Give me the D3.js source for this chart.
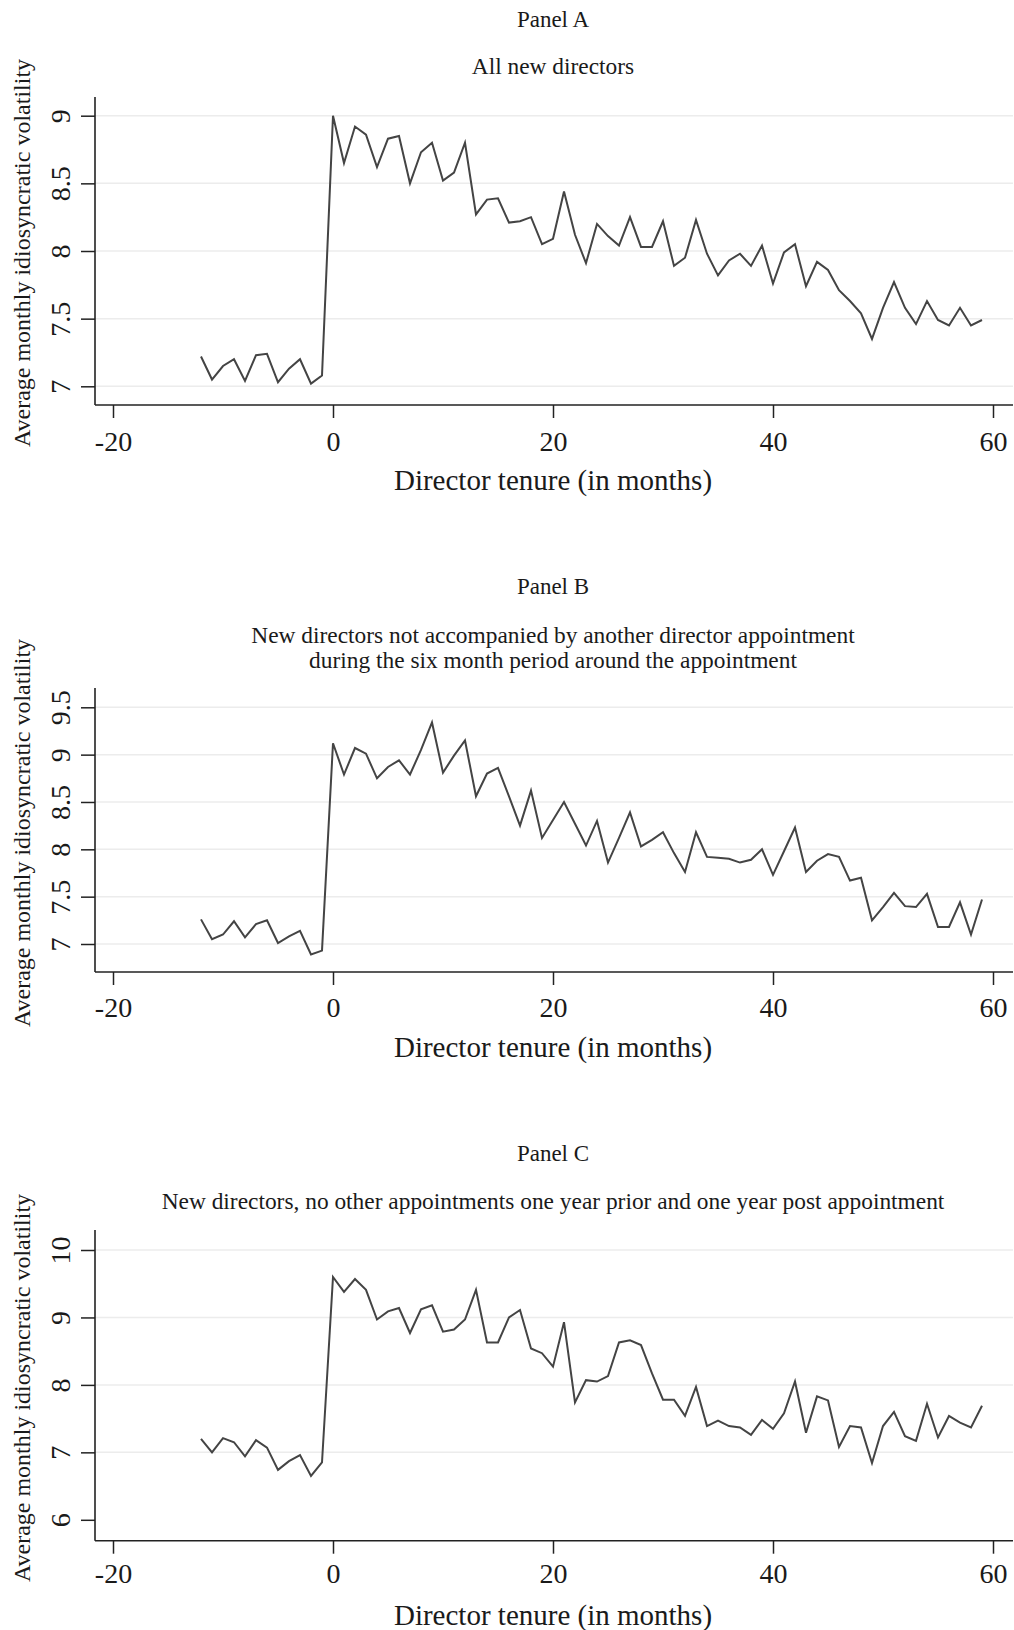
<!DOCTYPE html>
<html lang="en">
<head>
<meta charset="UTF-8">
<title>Idiosyncratic volatility around director appointments</title>
<script src="https://cdn.jsdelivr.net/npm/d3@7"></script>
<style>
  body { margin: 0; background: #fff; }
  text { font-family: "Liberation Serif", "Times New Roman", serif; fill: #1a1a1a; }
</style>
</head>
<body>
<svg width="1014" height="1630"></svg>
<script>
// months relative to appointment
var months = d3.range(-12, 60);

var xTicks = [-20, 0, 20, 40, 60];

// Panel A: all new directors
var valuesA = [7.22, 7.05, 7.15, 7.20, 7.04, 7.23, 7.24, 7.03, 7.13, 7.20, 7.02, 7.08,
  9.00, 8.65, 8.92, 8.86, 8.62, 8.83, 8.85, 8.50, 8.73, 8.80, 8.52, 8.58,
  8.80, 8.27, 8.38, 8.39, 8.21, 8.22, 8.25, 8.05, 8.09, 8.44, 8.12, 7.91,
  8.20, 8.11, 8.04, 8.25, 8.03, 8.03, 8.22, 7.89, 7.95, 8.23, 7.98, 7.82,
  7.93, 7.98, 7.89, 8.04, 7.76, 7.99, 8.05, 7.74, 7.92, 7.86, 7.71, 7.63,
  7.54, 7.35, 7.58, 7.77, 7.58, 7.46, 7.63, 7.49, 7.45, 7.58, 7.45, 7.49];
var yTicksA = [7, 7.5, 8, 8.5, 9];
var gridA = [7, 7.5, 8, 8.5, 9];

// Panel B: no other appointment within six months
var valuesB = [7.26, 7.05, 7.10, 7.24, 7.07, 7.21, 7.25, 7.01, 7.08, 7.14, 6.89, 6.93,
  9.12, 8.79, 9.07, 9.01, 8.75, 8.87, 8.94, 8.79, 9.05, 9.34, 8.81, 8.99,
  9.15, 8.56, 8.80, 8.86, 8.56, 8.25, 8.62, 8.12, 8.31, 8.50, 8.27, 8.04,
  8.30, 7.86, 8.12, 8.39, 8.03, 8.10, 8.18, 7.96, 7.76, 8.18, 7.92, 7.91,
  7.90, 7.86, 7.89, 8.00, 7.73, 7.98, 8.23, 7.76, 7.88, 7.95, 7.92, 7.67,
  7.70, 7.25, 7.39, 7.54, 7.40, 7.39, 7.53, 7.18, 7.18, 7.44, 7.10, 7.47];
var yTicksB = [7, 7.5, 8, 8.5, 9, 9.5];
var gridB = [7, 7.5, 8, 8.5, 9, 9.5];

// Panel C: no other appointments one year before / after
var valuesC = [7.20, 7.00, 7.21, 7.15, 6.94, 7.18, 7.07, 6.74, 6.87, 6.96, 6.65, 6.85,
  9.60, 9.38, 9.57, 9.41, 8.97, 9.09, 9.14, 8.77, 9.12, 9.18, 8.79, 8.82,
  8.97, 9.41, 8.63, 8.63, 9.00, 9.11, 8.54, 8.47, 8.27, 8.93, 7.74, 8.07,
  8.05, 8.13, 8.63, 8.66, 8.59, 8.17, 7.78, 7.78, 7.54, 7.97, 7.39, 7.47,
  7.39, 7.37, 7.26, 7.48, 7.35, 7.58, 8.05, 7.29, 7.83, 7.77, 7.08, 7.39,
  7.37, 6.84, 7.39, 7.60, 7.24, 7.17, 7.72, 7.22, 7.54, 7.44, 7.37, 7.69];
var yTicksC = [6, 7, 8, 9, 10];
var gridC = [7, 8, 9, 10];

var svg = d3.select("svg");

// shared horizontal layout
var plotLeft = 95, plotRight = 1013;
var x = d3.scaleLinear().domain([-20, 60]).range([113, 993]);
var fmt = function (d) { return String(d); }; // plain hyphen minus, like the original

var panels = [
  { name: "Panel A", sub: ["All new directors"], values: valuesA, ticks: yTicksA, grid: gridA,
    titleY: 19, subY: [66], top: 97, axisY: 405, yDom: [7, 9], yRng: [386.3, 115.7],
    xLabY: 441, xTitY: 480, yTitY: 253 },
  { name: "Panel B", sub: ["New directors not accompanied by another director appointment",
    "during the six month period around the appointment"], values: valuesB, ticks: yTicksB, grid: gridB,
    titleY: 586, subY: [635, 660], top: 688, axisY: 972, yDom: [7, 9.5], yRng: [944, 707.3],
    xLabY: 1007, xTitY: 1047, yTitY: 833 },
  { name: "Panel C", sub: ["New directors, no other appointments one year prior and one year post appointment"],
    values: valuesC, ticks: yTicksC, grid: gridC,
    titleY: 1153, subY: [1201], top: 1230, axisY: 1540.7, yDom: [6, 10], yRng: [1519.8, 1250],
    xLabY: 1573, xTitY: 1615, yTitY: 1388 }
];

panels.forEach(function (p) {
  var g = svg.append("g");
  var y = d3.scaleLinear().domain(p.yDom).range(p.yRng);

  // titles
  g.append("text")
    .attr("x", 553).attr("y", p.titleY).attr("dy", "0.35em")
    .attr("text-anchor", "middle").style("font-size", "23px")
    .text(p.name);
  p.sub.forEach(function (s, i) {
    g.append("text")
      .attr("x", 553).attr("y", p.subY[i]).attr("dy", "0.35em")
      .attr("text-anchor", "middle").style("font-size", "23.4px")
      .text(s);
  });

  // grid lines
  g.selectAll(".grid")
    .data(p.grid)
    .enter()
    .append("line")
    .attr("x1", plotLeft).attr("x2", plotRight)
    .attr("y1", function (d) { return y(d); })
    .attr("y2", function (d) { return y(d); })
    .attr("stroke", "#ececec").attr("stroke-width", 1.5);

  // y axis
  var yAxis = g.append("g")
    .attr("transform", "translate(" + plotLeft + ",0)")
    .call(d3.axisLeft(y).tickValues(p.ticks).tickSize(14).tickSizeOuter(0)
      .tickFormat(fmt));
  yAxis.select(".domain").remove();
  yAxis.selectAll("line").attr("stroke", "#222").attr("stroke-width", 1.5);
  yAxis.selectAll("text")
    .attr("x", 0).attr("y", 0).attr("dy", "0.35em")
    .attr("text-anchor", "middle")
    .attr("transform", "translate(-35,0) rotate(-90)")
    .style("font-size", "28px")
    .style("font-family", "Liberation Serif")
    .attr("fill", "#1a1a1a");
  g.append("line")
    .attr("x1", plotLeft).attr("x2", plotLeft)
    .attr("y1", p.top).attr("y2", p.axisY)
    .attr("stroke", "#222").attr("stroke-width", 1.6);

  // x axis
  var xAxis = g.append("g")
    .attr("transform", "translate(0," + p.axisY + ")")
    .call(d3.axisBottom(x).tickValues(xTicks).tickSize(13).tickSizeOuter(0)
      .tickFormat(fmt));
  xAxis.select(".domain").remove();
  xAxis.selectAll("line").attr("stroke", "#222").attr("stroke-width", 1.5);
  xAxis.selectAll("text")
    .attr("y", p.xLabY - p.axisY).attr("dy", "0.35em")
    .style("font-size", "28px")
    .style("font-family", "Liberation Serif")
    .attr("fill", "#1a1a1a");
  g.append("line")
    .attr("x1", plotLeft).attr("x2", plotRight)
    .attr("y1", p.axisY).attr("y2", p.axisY)
    .attr("stroke", "#222").attr("stroke-width", 1.6);

  // axis titles
  g.append("text")
    .attr("x", 553).attr("y", p.xTitY).attr("dy", "0.35em")
    .attr("text-anchor", "middle").style("font-size", "29px")
    .text("Director tenure (in months)");
  g.append("text")
    .attr("transform", "translate(22," + p.yTitY + ") rotate(-90)")
    .attr("dy", "0.35em")
    .attr("text-anchor", "middle").style("font-size", "24px")
    .attr("fill", "#333")
    .text("Average monthly idiosyncratic volatility");

  // series line
  var line = d3.line()
    .x(function (d, i) { return x(months[i]); })
    .y(function (d) { return y(d); });
  g.append("path")
    .datum(p.values)
    .attr("d", line)
    .attr("fill", "none")
    .attr("stroke", "#444")
    .attr("stroke-width", 2)
    .attr("stroke-linejoin", "miter");
});
</script>
</body>
</html>
